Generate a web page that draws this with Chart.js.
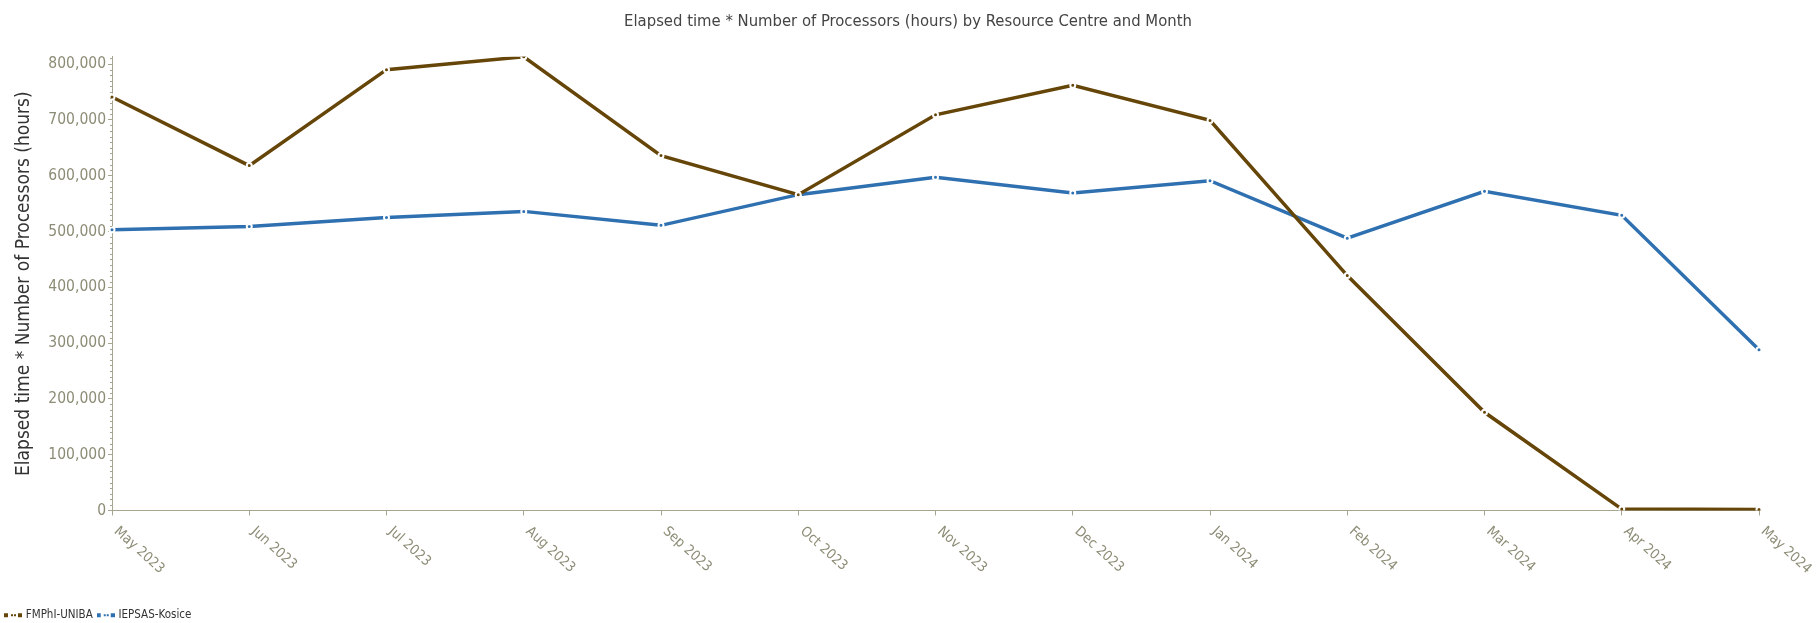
<!DOCTYPE html>
<html>
<head>
<meta charset="utf-8">
<script src="https://cdn.jsdelivr.net/npm/chart.js@4"></script>
<style>
  html, body { margin: 0; padding: 0; background: #fff; }
  #wrap { width: 1816px; height: 623px; }
</style>
</head>
<body>
<div id="wrap"><canvas id="chart" width="1816" height="623"></canvas></div>
<script>
'use strict';

/* ---- data ---- */
const months = ['May 2023', 'Jun 2023', 'Jul 2023', 'Aug 2023', 'Sep 2023', 'Oct 2023', 'Nov 2023',
                'Dec 2023', 'Jan 2024', 'Feb 2024', 'Mar 2024', 'Apr 2024', 'May 2024'];
const fmphiUniba  = [741000, 618000, 790000, 813000, 636000, 566000, 709000, 762000, 699000, 421000, 176000, 2500, 2000];
const iepsasKosice = [503000, 509000, 525000, 536000, 511000, 566000, 597000, 569000, 591000, 488000, 572000, 529000, 288000];
const seriesNames = ['FMPhI-UNIBA', 'IEPSAS-Kosice'];
const yTickStep = 100000;
const yMinorStep = 10000;

/* ---- look ---- */
const FONT = "'DejaVu Sans Condensed', 'Liberation Sans Narrow', sans-serif";
const COLORS = ['#664508', '#2f70b0'];
const TICK_COLOR = '#8c8c76';
const AXIS_COLOR = '#a6a690';
const LABEL_ANGLE = 42 * Math.PI / 180;

/* legend marker: square, two dots, square */
function legendMarker(color) {
  const c = document.createElement('canvas');
  c.width = 18; c.height = 6;
  const g = c.getContext('2d');
  g.fillStyle = color;
  g.fillRect(0, 1, 4, 4);
  g.fillRect(7, 2, 2, 2);
  g.fillRect(10, 2, 2, 2);
  g.fillRect(14, 1, 4, 4);
  return c;
}

/* minor ticks on the y axis + rotated month labels */
const axisExtras = {
  id: 'axisExtras',
  afterDraw(chart) {
    const ctx = chart.ctx;
    const y = chart.scales.y;
    const x = chart.scales.x;
    ctx.save();
    ctx.strokeStyle = AXIS_COLOR;
    ctx.lineWidth = 1;
    for (let v = yMinorStep; v <= y.max; v += yMinorStep) {
      if (v % yTickStep === 0) continue;
      const py = Math.round(y.getPixelForValue(v)) + 0.5;
      ctx.beginPath();
      ctx.moveTo(y.right - 2, py);
      ctx.lineTo(y.right, py);
      ctx.stroke();
    }
    ctx.fillStyle = TICK_COLOR;
    ctx.font = '14px ' + FONT;
    ctx.textAlign = 'left';
    ctx.textBaseline = 'middle';
    x.ticks.forEach((t, i) => {
      const px = x.getPixelForTick(i);
      ctx.save();
      ctx.translate(px + 4, x.top + 19);
      ctx.rotate(LABEL_ANGLE);
      ctx.fillText(months[i], 0, 0);
      ctx.restore();
    });
    ctx.restore();
  }
};

const datasets = [fmphiUniba, iepsasKosice].map((vals, i) => ({
  label: seriesNames[i],
  data: vals,
  borderColor: COLORS[i],
  backgroundColor: COLORS[i],
  borderWidth: 3.5,
  tension: 0,
  pointRadius: 2.5,
  pointBorderWidth: 2,
  pointBorderColor: '#fff',
  pointBackgroundColor: COLORS[i],
  pointHoverRadius: 3
}));

new Chart(document.getElementById('chart'), {
  type: 'line',
  data: { labels: months, datasets },
  plugins: [axisExtras],
  options: {
    responsive: false,
    animation: false,
    layout: { padding: { left: 0, right: 0, top: 0, bottom: -8 } },
    plugins: {
      title: {
        display: true,
        text: 'Elapsed time * Number of Processors (hours) by Resource Centre and Month',
        color: '#444',
        font: { family: FONT, size: 16.5, weight: 'normal' },
        padding: { top: 12, bottom: 25 }
      },
      legend: {
        position: 'bottom',
        align: 'start',
        labels: {
          usePointStyle: true,
          pointStyleWidth: 14,
          boxHeight: 12,
          padding: 6,
          color: '#333',
          font: { family: FONT, size: 11.5 },
          generateLabels(chart) {
            return chart.data.datasets.map((ds, i) => ({
              text: ds.label,
              fillStyle: COLORS[i],
              strokeStyle: COLORS[i],
              lineWidth: 0,
              pointStyle: legendMarker(COLORS[i]),
              datasetIndex: i,
              hidden: false,
              fontColor: '#333'
            }));
          }
        }
      },
      tooltip: { enabled: false }
    },
    scales: {
      x: {
        offset: false,
        afterFit(scale) { scale.height = 93; },
        grid: { drawOnChartArea: false, drawTicks: true, tickLength: 5, tickColor: AXIS_COLOR },
        border: { display: true, color: AXIS_COLOR, width: 1 },
        ticks: { display: false, autoSkip: false }
      },
      y: {
        min: 0,
        max: Math.max(...fmphiUniba, ...iepsasKosice),
        afterFit(scale) { scale.width = 112; },
        afterBuildTicks(scale) {
          const ticks = [];
          for (let v = 0; v <= scale.max; v += yTickStep) ticks.push({ value: v });
          scale.ticks = ticks;
        },
        grid: { drawOnChartArea: false, drawTicks: true, tickLength: 4, tickColor: AXIS_COLOR },
        border: { display: true, color: AXIS_COLOR, width: 1 },
        ticks: {
          color: TICK_COLOR,
          padding: 2,
          font: { family: FONT, size: 15.5 },
          callback: v => v.toLocaleString('en-US')
        },
        title: {
          display: true,
          text: 'Elapsed time * Number of Processors (hours)',
          color: '#333',
          font: { family: FONT, size: 19 },
          padding: { top: 13, bottom: 0 }
        }
      },
      /* empty right-hand axis: keeps the right margin so the title centres on the canvas */
      yRight: {
        position: 'right',
        afterFit(scale) { scale.width = 57; },
        grid: { display: false },
        border: { display: false },
        ticks: { display: false }
      }
    }
  }
});
</script>
</body>
</html>
